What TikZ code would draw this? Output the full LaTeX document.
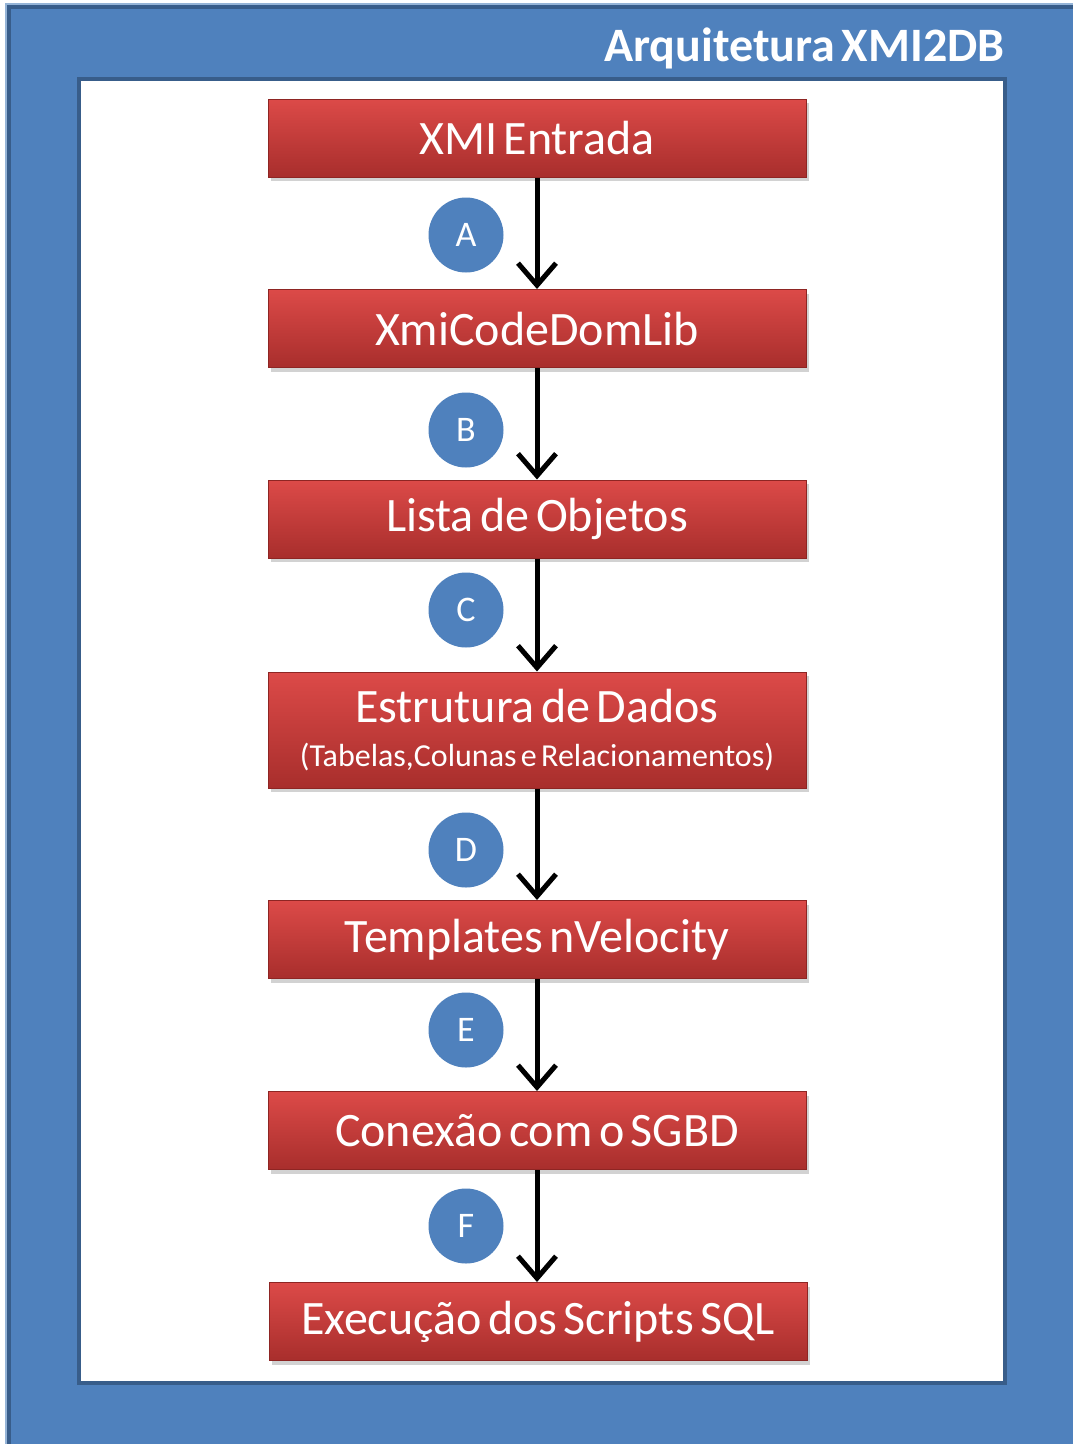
\documentclass[tikz,border=0pt]{standalone}
\usepackage{fontspec}
\setmainfont[WordSpace=0.6]{Carlito}
\usetikzlibrary{arrows.meta,shadows}
\definecolor{pblue}{HTML}{4F81BD}
\definecolor{dblue}{HTML}{385D8A}
\definecolor{rtop}{HTML}{DC4A48}
\definecolor{rbot}{HTML}{A82E2C}
\definecolor{redge}{HTML}{8E2523}
\tikzset{
  stagebox/.style={rectangle, minimum width=538pt, minimum height=78pt, inner sep=0pt,
    top color=rtop, bottom color=rbot, draw=redge, line width=1pt,
    drop shadow={shadow xshift=3pt, shadow yshift=-4pt, opacity=0.35},
    text=white, font=\fontsize{48}{52}\selectfont, align=center},
  tallbox/.style={stagebox, minimum height=116pt},
  lettercircle/.style={circle, minimum size=75pt, inner sep=0pt, fill=pblue,
    text=white, font=\fontsize{36}{38}\selectfont},
  flow/.style={line width=5pt, -{Straight Barb[length=22pt,width=38pt,line width=5pt]}}
}
\begin{document}
\begin{tikzpicture}[x=1pt,y=-1pt]
\useasboundingbox (0,0) rectangle (1073,1444);
\fill[white] (0,0) rectangle (1073,1444);
\fill[pblue!60!white] (5,3) rectangle (1073,1444);
\filldraw[fill=pblue, draw=dblue, line width=4pt] (9,7) rectangle (1075,1446);
\filldraw[fill=white, draw=dblue, line width=4pt] (79,79) rectangle (1005,1383);
\node[anchor=east, text=white, font=\fontsize{48}{52}\selectfont\bfseries] (title) at (1008,48) {Arquitetura XMI2DB};

\node[stagebox] (b1) at (537,138) {XMI Entrada};
\node[stagebox] (b2) at (537,328.5) {XmiCodeDomLib};
\node[stagebox] (b3) at (537,519) {Lista de Objetos};
\node[tallbox] (b4) at (537,730) {Estrutura de Dados\\[-8pt]{\fontsize{32}{36}\selectfont(Tabelas,Colunas e Relacionamentos)}};
\node[stagebox] (b5) at (537,939.5) {Templates nVelocity};
\node[stagebox] (b6) at (537,1130.5) {Conexão com o SGBD};
\node[stagebox] (b7) at (538,1321.5) {Execução dos Scripts SQL};

\draw[flow] (b1.south) -- (b2.north);
\draw[flow] (b2.south) -- (b3.north);
\draw[flow] (b3.south) -- (b4.north);
\draw[flow] (b4.south) -- (b5.north);
\draw[flow] (b5.south) -- (b6.north);
\draw[flow] (b6.south) -- ([xshift=-1pt]b7.north);

\node[lettercircle] (cA) at (466,235) {A};
\node[lettercircle] (cB) at (466,430) {B};
\node[lettercircle] (cC) at (466,610) {C};
\node[lettercircle] (cD) at (466,850) {D};
\node[lettercircle] (cE) at (466,1030) {E};
\node[lettercircle] (cF) at (466,1226) {F};
\end{tikzpicture}
\end{document}
